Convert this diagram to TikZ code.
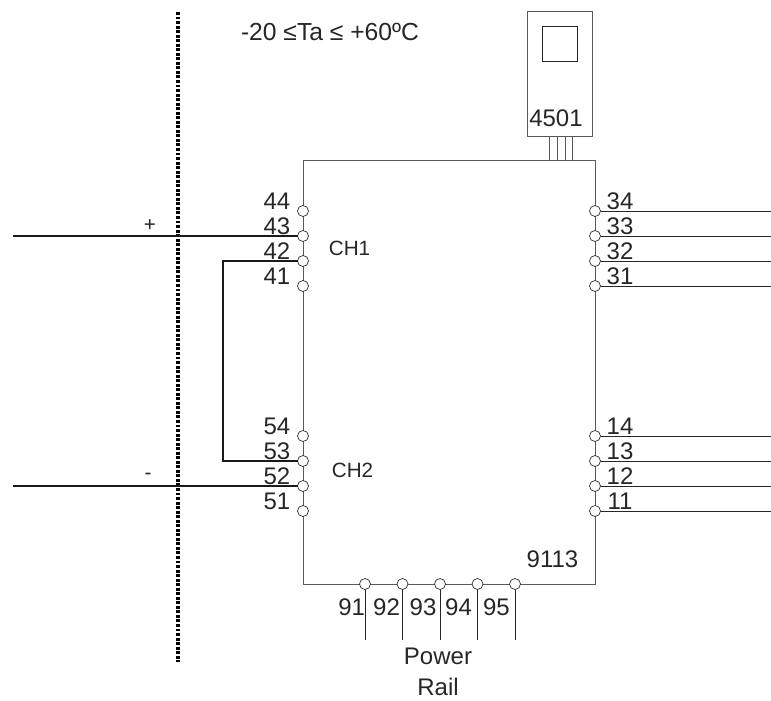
\documentclass[tikz,border=0pt]{standalone}
\usepackage{fontspec}
\setmainfont{Liberation Sans}
\usepackage{tikz}
\usetikzlibrary{positioning}
\definecolor{boxline}{gray}{0.35}
\tikzstyle{block} = [draw=boxline, rectangle, inner sep=0, outer sep=0, line width=0.7pt]
\tikzstyle{window} = [draw=black!85, rectangle, inner sep=0, outer sep=0, line width=0.6pt, minimum size=26.25pt]
\tikzstyle{terminal} = [draw=black!85, circle, fill=white, inner sep=0, outer sep=0, minimum size=8.25pt, line width=0.5pt, node distance=18.75pt]
\tikzstyle{num} = [inner sep=0, text=black!85, font=\fontsize{18}{18}\selectfont]
\tikzstyle{chan} = [inner sep=0, text=black!85, font=\fontsize{15.5}{15.5}\selectfont]
\tikzstyle{wire} = [black!85, line width=0.6pt]
\tikzstyle{heavy} = [black!90, line width=1.5pt]
\tikzstyle{barrier} = [black, line width=2.7pt, dash pattern=on 2.2pt off 1.2pt]

\begin{document}
\begin{tikzpicture}[x=0.75pt, y=-0.75pt, node distance=18.75pt]
	  \useasboundingbox (0,0) rectangle (771,700);

	  \node [block, minimum width=219pt, minimum height=318pt] (card) at (449,372) {};
	  \node [block, minimum width=48.75pt, minimum height=93.75pt] (sensor) at (559.5,73.5) {};
	  \node [window] (display) at (559.5,43.5) {};
	  \node [num] (sensorname) at (556,118) {4501};
	  \node [num] (cardname) at (552.5,559) {9113};

	  % pins of the display unit
	  \coordinate (pina) at (549.5,136);
	  \coordinate (pinb) at (557,136);
	  \coordinate (pinc) at (565,136);
	  \coordinate (pind) at (572.5,136);
	  \draw [block] (pina) -- (pina |- card.north);
	  \draw [block] (pinb) -- (pinb |- card.north);
	  \draw [block] (pinc) -- (pinc |- card.north);
	  \draw [block] (pind) -- (pind |- card.north);

	  % input terminals
	  \node [terminal] (t44) at (303,211) {};
	  \node [terminal, below of=t44] (t43) {};
	  \node [terminal, below of=t43] (t42) {};
	  \node [terminal, below of=t42] (t41) {};
	  \node [terminal] (t54) at (303,436) {};
	  \node [terminal, below of=t54] (t53) {};
	  \node [terminal, below of=t53] (t52) {};
	  \node [terminal, below of=t52] (t51) {};

	  % output terminals
	  \node [terminal] (t34) at (595,211) {};
	  \node [terminal, below of=t34] (t33) {};
	  \node [terminal, below of=t33] (t32) {};
	  \node [terminal, below of=t32] (t31) {};
	  \node [terminal] (t14) at (595,436) {};
	  \node [terminal, below of=t14] (t13) {};
	  \node [terminal, below of=t13] (t12) {};
	  \node [terminal, below of=t12] (t11) {};

	  % power terminals
	  \node [terminal] (t91) at (365,584) {};
	  \node [terminal, right of=t91, node distance=28.125pt] (t92) {};
	  \node [terminal, right of=t92, node distance=28.125pt] (t93) {};
	  \node [terminal, right of=t93, node distance=28.125pt] (t94) {};
	  \node [terminal, right of=t94, node distance=28.125pt] (t95) {};

	  \node [num, left of=t44, node distance=19.5pt, yshift=7.1pt] (n44) {44};
	  \node [num, left of=t43, node distance=19.5pt, yshift=7.1pt] (n43) {43};
	  \node [num, left of=t42, node distance=19.5pt, yshift=7.1pt] (n42) {42};
	  \node [num, left of=t41, node distance=19.5pt, yshift=7.1pt] (n41) {41};
	  \node [num, left of=t54, node distance=19.5pt, yshift=7.1pt] (n54) {54};
	  \node [num, left of=t53, node distance=19.5pt, yshift=7.1pt] (n53) {53};
	  \node [num, left of=t52, node distance=19.5pt, yshift=7.1pt] (n52) {52};
	  \node [num, left of=t51, node distance=19.5pt, yshift=7.1pt] (n51) {51};

	  \node [num, right of=t34, node distance=18.75pt, yshift=7.1pt] (n34) {34};
	  \node [num, right of=t33, node distance=18.75pt, yshift=7.1pt] (n33) {33};
	  \node [num, right of=t32, node distance=18.75pt, yshift=7.1pt] (n32) {32};
	  \node [num, right of=t31, node distance=18.75pt, yshift=7.1pt] (n31) {31};
	  \node [num, right of=t14, node distance=18.75pt, yshift=7.1pt] (n14) {14};
	  \node [num, right of=t13, node distance=18.75pt, yshift=7.1pt] (n13) {13};
	  \node [num, right of=t12, node distance=18.75pt, yshift=7.1pt] (n12) {12};
	  \node [num, right of=t11, node distance=18.75pt, yshift=7.1pt] (n11) {11};

	  \node [num, below of=t91, node distance=17.5pt, xshift=-10pt] (n91) {91};
	  \node [num, below of=t92, node distance=17.5pt, xshift=-12pt] (n92) {92};
	  \node [num, below of=t93, node distance=17.5pt, xshift=-12.75pt] (n93) {93};
	  \node [num, below of=t94, node distance=17.5pt, xshift=-14.25pt] (n94) {94};
	  \node [num, below of=t95, node distance=17.5pt, xshift=-13.9pt] (n95) {95};

	  \node [chan] (ch1) at (349.5,248) {CH1};
	  \node [chan] (ch2) at (352.5,470) {CH2};
	  \node [chan] (plus) at (150,226) {+};
	  \node [chan] (minus) at (148,476) {-};
	  \node [chan, font=\fontsize{18.5}{18.5}\selectfont] (temp) at (330,32) {-20 ≤Ta ≤ +60ºC};
	  \node [chan, align=center, font=\fontsize{18}{23}\selectfont] (rail) at (438,672) {Power\\Rail};

	  % hazardous area boundary
	  \coordinate (bartop) at (178,12);
	  \coordinate (barbot) at (178,662);
	  \draw [barrier] (bartop) -- (barbot);

	  % field wiring
	  \coordinate (inplus) at (13,236);
	  \coordinate (inminus) at (13,486);
	  \coordinate (jumper) at (223,300);
	  \draw [heavy] (inplus) -- (t43);
	  \draw [heavy] (inminus) -- (t52);
	  \draw [heavy] (t42) -| (jumper) |- (t53);

	  % outputs
	  \coordinate (e34) at (771,211);
	  \coordinate (e33) at (771,236);
	  \coordinate (e32) at (771,261);
	  \coordinate (e31) at (771,286);
	  \coordinate (e14) at (771,436);
	  \coordinate (e13) at (771,461);
	  \coordinate (e12) at (771,486);
	  \coordinate (e11) at (771,511);
	  \draw [wire] (t34) -- (e34);
	  \draw [wire] (t33) -- (e33);
	  \draw [wire] (t32) -- (e32);
	  \draw [wire] (t31) -- (e31);
	  \draw [wire] (t14) -- (e14);
	  \draw [wire] (t13) -- (e13);
	  \draw [wire] (t12) -- (e12);
	  \draw [wire] (t11) -- (e11);

	  % power leads
	  \coordinate (e91) at (365,640);
	  \coordinate (e92) at (402.5,640);
	  \coordinate (e93) at (440,640);
	  \coordinate (e94) at (477.5,640);
	  \coordinate (e95) at (515,640);
	  \draw [wire] (t91) -- (e91);
	  \draw [wire] (t92) -- (e92);
	  \draw [wire] (t93) -- (e93);
	  \draw [wire] (t94) -- (e94);
	  \draw [wire] (t95) -- (e95);
	\end{tikzpicture}
\end{document}
